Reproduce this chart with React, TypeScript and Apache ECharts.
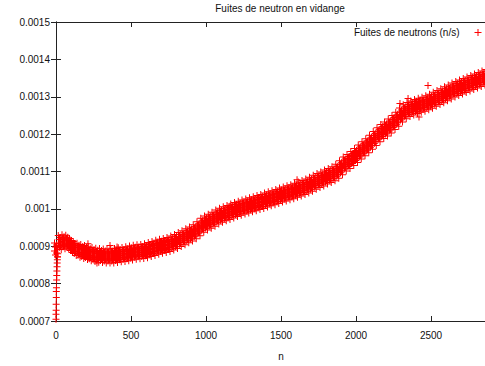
import React, { useEffect, useRef } from "react";
import * as echarts from "echarts";

const TITLE = "Fuites de neutron en vidange";
const SERIES_NAME = "Fuites de neutrons (n/s)";
const X_NAME = "n";
const X_MIN = 0;
const X_MAX = 3000;
const X_STEP = 500;
const Y_MIN = 0.0007;
const Y_MAX = 0.0015;
const Y_STEP = 0.0001;

// centre of the dense band of points, read every 25 steps of n (n = 0, 25, 50, ...)
const BAND_STEP = 25;
const bandValues = [
  0.00089, 0.00091, 0.000912, 0.000911, 0.000902, 0.000894, 0.000889, 0.000886,
  0.000883, 0.00088, 0.000878, 0.000876, 0.000875, 0.000874, 0.000874, 0.000874,
  0.000875, 0.000877, 0.000878, 0.00088, 0.000882, 0.000884, 0.000885, 0.000886,
  0.000888, 0.000891, 0.000894, 0.000897, 0.0009, 0.000902, 0.000905, 0.000909,
  0.000913, 0.000918, 0.000923, 0.000928, 0.000933, 0.000939, 0.000947, 0.000956,
  0.000962, 0.000967, 0.000972, 0.000978, 0.000983, 0.000987, 0.00099, 0.000994,
  0.000998, 0.001002, 0.001005, 0.001008, 0.001011, 0.001014, 0.001017, 0.00102,
  0.001024, 0.001027, 0.00103, 0.001033, 0.001037, 0.00104, 0.001043, 0.001046,
  0.00105, 0.001053, 0.001057, 0.001061, 0.001066, 0.001071, 0.001076, 0.00108,
  0.001085, 0.001089, 0.001094, 0.001101, 0.00111, 0.00112, 0.001127, 0.001135,
  0.001143, 0.001152, 0.001161, 0.001169, 0.001178, 0.001188, 0.001198, 0.001207,
  0.001214, 0.001222, 0.001231, 0.00124, 0.001251, 0.00126, 0.001266, 0.00127,
  0.001274, 0.001277, 0.00128, 0.001284, 0.001288, 0.001293, 0.001298, 0.001303,
  0.001308, 0.001313, 0.001318, 0.001322, 0.001326, 0.00133, 0.001334, 0.001338,
  0.001342, 0.001346, 0.00135, 0.001354,
];

// first points, climbing from 0.0007 at the very start
const startN = [0, 0, 1, 1, 2, 2, 3, 4, 5, 6, 7, 8, 9, 10, 12];
const startV = [
  0.000705, 0.000718, 0.000729, 0.000745, 0.000763, 0.000779, 0.000789, 0.00081,
  0.000822, 0.000834, 0.000845, 0.000855, 0.000864, 0.000872, 0.00088,
];

// isolated points that stand out of the band
const strayN = [213, 273, 360, 407, 1160, 1607, 2293, 2347, 2420, 2480];
const strayV = [
  0.000907, 0.000855, 0.000902, 0.000898, 0.001007, 0.001078, 0.001282, 0.001295,
  0.001246, 0.00133,
];

const plusRects = (ox: number, oy: number) =>
  `M${ox},${oy + 3}h7v1h-7z M${ox + 3},${oy}h1v7h-1z`;
const PLUS = "path://" + plusRects(0, 0);
const CLUSTER_OFFSETS = [
  [0, 0], [2, 2], [1, 4], [3, 6], [0, 8], [2, 10], [1, 12], [3, 14],
];
const PLUS_CLUSTER =
  "path://" + CLUSTER_OFFSETS.map(([x, y]) => plusRects(x, y)).join(" ");

const RED = "#ff0000";
const INK = "#111";
const FONT = "'Liberation Sans', Arial, Helvetica, sans-serif";

export default function App() {
  const ref = useRef<HTMLDivElement>(null);
  useEffect(() => {
    if (!ref.current) return;
    const chart = echarts.init(ref.current, undefined, { renderer: "svg" });

    const data: any[] = [];
    bandValues.forEach((v, i) => {
      data.push({ value: [i * BAND_STEP, v], symbol: PLUS_CLUSTER, symbolSize: [10, 21] });
    });
    startN.forEach((n, i) => {
      data.push({ value: [n, startV[i]], symbol: PLUS, symbolSize: 7 });
    });
    strayN.forEach((n, i) => {
      data.push({ value: [n, strayV[i]], symbol: PLUS, symbolSize: 7 });
    });

    const axisLine = { show: true, lineStyle: { color: "#222", width: 1 } };
    const tick = { show: true, inside: true, length: 5, lineStyle: { color: "#222" } };

    chart.setOption({
      animation: false,
      backgroundColor: "#ffffff",
      textStyle: { fontFamily: FONT },
      title: {
        text: TITLE,
        left: 280,
        top: 2,
        padding: 0,
        textAlign: "center",
        textStyle: { fontSize: 10, fontWeight: "normal", color: INK, fontFamily: FONT, lineHeight: 12 },
      },
      legend: {
        data: [{ name: SERIES_NAME, icon: PLUS }],
        right: 38.5,
        top: 26.5,
        padding: 0,
        align: "right",
        itemWidth: 7,
        itemHeight: 7,
        selectedMode: false,
        textStyle: {
          fontSize: 10,
          lineHeight: 12,
          color: INK,
          fontFamily: FONT,
          padding: [0, 10, 0, 0],
        },
      },
      grid: { left: 56, top: 22, width: 450, height: 305, containLabel: false },
      xAxis: [
        {
          type: "value",
          min: X_MIN,
          max: X_MAX,
          interval: X_STEP,
          name: X_NAME,
          nameLocation: "middle",
          nameGap: 30,
          nameTextStyle: { fontSize: 10, color: INK, fontFamily: FONT },
          axisLine,
          axisTick: tick,
          splitLine: { show: false },
          axisLabel: {
            fontSize: 10,
            color: INK,
            margin: 9,
            fontFamily: FONT,
            showMaxLabel: false,
            formatter: (v: number) => String(v),
          },
        },
        {
          type: "value",
          position: "top",
          min: X_MIN,
          max: X_MAX,
          interval: X_STEP,
          axisLine,
          axisTick: tick,
          splitLine: { show: false },
          axisLabel: { show: false },
        },
      ],
      yAxis: [
        {
          type: "value",
          min: Y_MIN,
          max: Y_MAX,
          interval: Y_STEP,
          axisLine,
          axisTick: tick,
          splitLine: { show: false },
          axisLabel: {
            fontSize: 10,
            color: INK,
            margin: 6,
            fontFamily: FONT,
            formatter: (v: number) => String(parseFloat(v.toFixed(5))),
          },
        },
        {
          type: "value",
          position: "right",
          min: Y_MIN,
          max: Y_MAX,
          interval: Y_STEP,
          axisLine,
          axisTick: tick,
          splitLine: { show: false },
          axisLabel: { show: false },
        },
      ],
      series: [
        {
          name: SERIES_NAME,
          type: "scatter",
          xAxisIndex: 0,
          yAxisIndex: 0,
          symbol: PLUS,
          symbolSize: 7,
          itemStyle: { color: RED, opacity: 1 },
          emphasis: { disabled: true },
          data,
        },
      ],
    });
    return () => chart.dispose();
  }, []);

  return (
    <div
      style={{
        position: "fixed",
        left: 0,
        top: 0,
        width: 485,
        height: 366,
        overflow: "hidden",
        background: "#fff",
      }}
    >
      <div ref={ref} style={{ width: 520, height: 366 }} />
    </div>
  );
}
